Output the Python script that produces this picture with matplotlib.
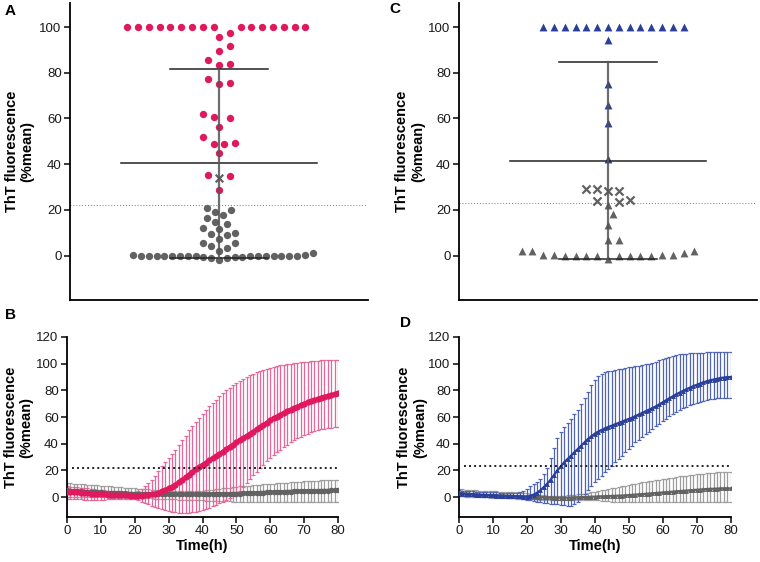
import numpy as np
import matplotlib
matplotlib.use('Agg')
import matplotlib.pyplot as plt

plt.rcParams['font.family'] = ['Liberation Sans', 'DejaVu Sans']

PINK = '#e0185e'
BLUE = '#2a3f9a'
GREY = '#626262'

# ---- panel A : end-point values (%mean) ----
A_pink = [100, 100, 100, 100, 100, 100, 100, 100, 100, 100, 100, 100, 100, 100, 100, 100,
	97.5, 95.5, 91.5, 89.7, 85.6, 83.8, 83.4, 77.3, 75.7, 75.2, 61.8, 60.6, 60.3,
	56.4, 51.7, 49.4, 49.0, 49.0, 44.8, 35.3, 34.8, 28.6]
A_greyX = [33.8]
A_grey = [21.0, 19.8, 19.2, 17.8, 16.3, 14.9, 13.8, 12.0, 11.8, 9.8, 9.5, 9.0, 7.3,
	5.5, 5.5, 4.2, 3.2,
	2.2, 0.3, 0.0, 0.0, 0.0, 0.0, -0.2, -0.2, -0.2, -0.2, -0.7, -0.9, -2.0, -0.9, -0.7,
	-0.4, -0.2, -0.2, -0.2, -0.2, -0.2, -0.2, -0.2, 0.3, 1.0]
A_thresh = 22.0

# ---- panel C ----
C_blue = [100, 100, 100, 100, 100, 100, 100, 100, 100, 100, 100, 100, 100, 100,
	94.2, 75.2, 65.8, 58.1, 42.2]
C_greyX = [29.1, 28.2, 28.3, 29.1, 24.5, 23.4, 23.9]
C_grey = [22.3, 18.0, 13.4, 6.9, 6.9,
	2.2, 1.9, 0.4, 0.4, 0.0, 0.0, 0.0, -0.3, -1.5, -0.3, 0.0, 0.0, 0.0, 0.4, 0.4, 1.0, 1.9]
C_thresh = 23.2

# ---- kinetics (B, D), one reading per hour ----
time_h = np.arange(0, 81, 1)

B_pink_mean = [4.0, 3.8, 3.6, 3.4, 3.2, 3.0, 2.8, 2.6, 2.4, 2.2,
	2.0, 1.9, 1.8, 1.7, 1.6, 1.5, 1.4, 1.3, 1.2, 1.1,
	1.0, 1.0, 1.1, 1.3, 1.6, 2.0, 2.5, 3.2, 4.2, 5.3,
	6.5, 7.8, 9.3, 11.0, 12.8, 14.8, 16.8, 18.8, 20.7, 22.5,
	24.2, 25.8, 27.4, 29.0, 30.6, 32.3, 34.0, 35.7, 37.5, 39.2,
	41.0, 42.6, 44.2, 45.8, 47.4, 49.0, 50.7, 52.4, 54.1, 55.8,
	57.5, 58.9, 60.3, 61.7, 63.1, 64.5, 65.6, 66.7, 67.8, 68.9,
	70.0, 70.9, 71.8, 72.7, 73.6, 74.5, 75.2, 75.9, 76.6, 77.3,
	78.0]
B_pink_hi = [8.0, 7.8, 7.5, 7.2, 7.0, 6.7, 6.4, 6.1, 5.8, 5.5,
	5.2, 5.0, 4.8, 4.6, 4.4, 4.2, 4.0, 3.8, 3.6, 3.5,
	3.5, 4.5, 6.0, 8.0, 10.5, 13.0, 16.0, 19.5, 23.0, 26.0,
	29.0, 32.0, 35.5, 39.0, 42.5, 46.0, 50.0, 53.5, 56.5, 59.5,
	62.5, 65.0, 68.0, 70.5, 73.0, 75.5, 78.0, 80.0, 82.0, 84.0,
	85.5, 87.0, 88.5, 90.0, 91.3, 92.5, 93.5, 94.5, 95.5, 96.3,
	97.0, 97.6, 98.2, 98.7, 99.2, 99.6, 100.0, 100.4, 100.7, 101.0,
	101.3, 101.6, 101.9, 102.1, 102.3, 102.5, 102.6, 102.7, 102.8, 102.9,
	103.0]
B_pink_lo = [-1.5, -1.5, -1.6, -1.7, -1.8, -1.9, -2.0, -2.0, -2.0, -2.0,
	-2.0, -1.9, -1.8, -1.7, -1.6, -1.5, -1.4, -1.3, -1.2, -1.2,
	-1.5, -2.5, -3.5, -4.5, -5.5, -6.5, -7.5, -8.5, -9.3, -10.0,
	-10.6, -11.1, -11.5, -11.8, -12.0, -12.0, -11.8, -11.5, -11.0, -10.4,
	-9.7, -8.9, -8.0, -7.0, -5.9, -4.7, -3.5, -2.2, -0.9, 0.4,
	2.0, 4.5, 7.5, 10.5, 13.5, 16.3, 19.0, 21.7, 24.3, 26.8,
	29.2, 31.4, 33.5, 35.5, 37.4, 39.2, 40.9, 42.5, 44.0, 45.3,
	46.5, 47.6, 48.6, 49.5, 50.2, 50.8, 51.3, 51.7, 52.0, 52.3,
	52.5]
B_grey_mean = [5.0, 4.8, 4.6, 4.4, 4.2, 4.0, 3.8, 3.7, 3.6, 3.5,
	3.4, 3.3, 3.2, 3.1, 3.0, 2.9, 2.8, 2.7, 2.6, 2.5,
	2.4, 2.3, 2.3, 2.2, 2.2, 2.1, 2.1, 2.0, 2.0, 2.0,
	2.0, 2.0, 2.0, 2.0, 2.0, 2.0, 2.0, 2.0, 2.0, 2.0,
	2.0, 2.1, 2.1, 2.2, 2.2, 2.3, 2.3, 2.4, 2.4, 2.5,
	2.5, 2.6, 2.7, 2.8, 2.9, 3.0, 3.1, 3.2, 3.3, 3.4,
	3.5, 3.6, 3.7, 3.8, 3.9, 4.0, 4.1, 4.2, 4.3, 4.4,
	4.5, 4.5, 4.6, 4.6, 4.7, 4.7, 4.8, 4.8, 4.9, 4.9,
	5.0]
B_grey_hi = [10.5, 10.3, 10.1, 9.9, 9.7, 9.5, 9.3, 9.1, 8.9, 8.7,
	8.5, 8.3, 8.1, 7.9, 7.7, 7.5, 7.3, 7.1, 6.9, 6.7,
	6.5, 6.3, 6.1, 5.9, 5.7, 5.5, 5.3, 5.1, 5.0, 4.9,
	4.8, 4.7, 4.6, 4.6, 4.5, 4.5, 4.5, 4.5, 4.5, 4.6,
	4.8, 5.0, 5.3, 5.6, 5.9, 6.2, 6.5, 6.8, 7.1, 7.4,
	7.7, 8.0, 8.2, 8.4, 8.6, 8.8, 9.0, 9.2, 9.4, 9.6,
	9.8, 10.0, 10.2, 10.4, 10.6, 10.8, 11.0, 11.2, 11.4, 11.6,
	11.8, 12.0, 12.1, 12.2, 12.3, 12.4, 12.5, 12.6, 12.7, 12.8,
	12.9]
B_grey_lo = [0.0, 0.0, 0.0, 0.0, -0.1, -0.1, -0.1, -0.2, -0.2, -0.2,
	-0.3, -0.3, -0.3, -0.4, -0.4, -0.4, -0.5, -0.5, -0.5, -0.6,
	-0.6, -0.7, -0.8, -0.9, -1.0, -1.1, -1.2, -1.3, -1.4, -1.5,
	-1.6, -1.7, -1.8, -1.9, -2.0, -2.1, -2.2, -2.3, -2.4, -2.5,
	-2.6, -2.7, -2.8, -2.9, -3.0, -3.1, -3.2, -3.3, -3.3, -3.4,
	-3.4, -3.4, -3.5, -3.5, -3.5, -3.5, -3.5, -3.5, -3.5, -3.5,
	-3.5, -3.5, -3.5, -3.5, -3.5, -3.5, -3.5, -3.5, -3.5, -3.5,
	-3.5, -3.5, -3.5, -3.5, -3.5, -3.5, -3.5, -3.5, -3.5, -3.5,
	-3.5]
B_thresh = 22.0

D_blue_mean = [2.8, 2.6, 2.4, 2.2, 2.0, 1.8, 1.6, 1.5, 1.4, 1.3,
	1.2, 1.1, 1.0, 0.9, 0.8, 0.7, 0.6, 0.5, 0.4, 0.3,
	0.3, 0.8, 1.8, 3.2, 5.0, 7.5, 10.0, 13.0, 16.5, 20.0,
	23.0, 26.0, 28.5, 31.0, 33.5, 36.0, 38.5, 41.0, 43.5, 45.5,
	47.5, 49.0, 50.3, 51.5, 52.5, 53.5, 54.5, 55.5, 56.5, 57.5,
	58.5, 59.5, 60.7, 61.9, 63.1, 64.3, 65.5, 66.7, 67.9, 69.4,
	71.0, 72.5, 74.0, 75.5, 77.0, 78.3, 79.6, 80.8, 82.0, 83.1,
	84.1, 85.1, 86.0, 86.8, 87.5, 88.1, 88.7, 89.2, 89.6, 89.9,
	90.0]
D_blue_hi = [5.0, 4.8, 4.6, 4.4, 4.2, 4.0, 3.9, 3.8, 3.7, 3.6,
	3.5, 3.4, 3.3, 3.2, 3.1, 3.0, 3.0, 3.2, 3.6, 4.5,
	6.0, 8.0, 9.5, 11.5, 13.5, 17.0, 22.0, 29.0, 37.0, 44.0,
	49.0, 52.5, 55.5, 58.5, 62.0, 65.0, 69.5, 74.5, 79.0, 84.0,
	88.0, 91.0, 92.5, 93.5, 94.2, 94.8, 95.3, 95.8, 96.3, 96.8,
	97.2, 97.6, 98.0, 98.5, 99.0, 99.5, 100.0, 100.8, 101.6, 102.4,
	103.2, 104.0, 104.8, 105.6, 106.3, 106.9, 107.3, 107.6, 107.8, 108.0,
	108.1, 108.2, 108.3, 108.4, 108.4, 108.5, 108.5, 108.5, 108.5, 108.5,
	108.5]
D_blue_lo = [1.0, 0.9, 0.8, 0.7, 0.6, 0.5, 0.4, 0.3, 0.2, 0.1,
	0.0, -0.1, -0.2, -0.3, -0.4, -0.5, -0.6, -0.8, -1.0, -1.5,
	-2.0, -2.5, -3.0, -3.5, -4.0, -4.3, -4.6, -4.9, -5.2, -5.5,
	-5.8, -6.2, -6.6, -6.5, -5.5, -3.5, -1.0, 2.0, 5.0, 8.0,
	11.0, 13.5, 16.0, 18.5, 21.0, 23.5, 26.0, 28.5, 31.0, 33.5,
	36.0, 38.5, 41.0, 43.0, 45.0, 47.0, 49.0, 51.0, 53.0, 55.0,
	57.0, 58.8, 60.6, 62.2, 63.8, 65.2, 66.5, 67.7, 68.8, 69.8,
	70.7, 71.5, 72.2, 72.8, 73.3, 73.7, 74.0, 74.2, 74.3, 74.4,
	74.5]
D_grey_mean = [3.0, 2.8, 2.6, 2.4, 2.2, 2.0, 1.8, 1.7, 1.6, 1.5,
	1.4, 1.3, 1.2, 1.1, 1.0, 0.9, 0.8, 0.7, 0.6, 0.5,
	0.4, 0.3, 0.2, 0.1, 0.0, -0.1, -0.2, -0.3, -0.4, -0.5,
	-0.5, -0.5, -0.5, -0.4, -0.3, -0.2, -0.1, 0.0, 0.1, 0.2,
	0.3, 0.4, 0.5, 0.6, 0.7, 0.8, 0.9, 1.0, 1.1, 1.2,
	1.4, 1.6, 1.8, 2.0, 2.2, 2.4, 2.6, 2.8, 3.0, 3.2,
	3.4, 3.6, 3.8, 4.0, 4.2, 4.4, 4.6, 4.8, 5.0, 5.2,
	5.4, 5.6, 5.8, 6.0, 6.1, 6.2, 6.3, 6.4, 6.5, 6.5,
	6.5]
D_grey_hi = [6.0, 5.8, 5.6, 5.4, 5.2, 5.0, 4.8, 4.6, 4.5, 4.4,
	4.3, 4.2, 4.1, 4.0, 3.9, 3.8, 3.7, 3.5, 3.3, 3.0,
	2.7, 2.4, 2.1, 1.8, 1.5, 1.3, 1.1, 1.0, 1.0, 1.0,
	1.0, 1.1, 1.2, 1.4, 1.6, 1.9, 2.2, 2.6, 3.0, 3.5,
	4.0, 4.5, 5.0, 5.5, 6.0, 6.5, 7.0, 7.5, 8.0, 8.5,
	9.0, 9.5, 10.0, 10.5, 11.0, 11.4, 11.8, 12.2, 12.6, 13.0,
	13.4, 13.8, 14.2, 14.6, 15.0, 15.4, 15.8, 16.1, 16.4, 16.7,
	17.0, 17.3, 17.6, 17.8, 18.0, 18.2, 18.4, 18.5, 18.6, 18.7,
	18.8]
D_grey_lo = [0.5, 0.4, 0.3, 0.2, 0.1, 0.0, -0.1, -0.2, -0.3, -0.4,
	-0.5, -0.6, -0.7, -0.8, -0.9, -1.0, -1.1, -1.2, -1.3, -1.4,
	-1.5, -1.6, -1.7, -1.8, -1.9, -2.0, -2.0, -2.0, -2.0, -2.0,
	-2.0, -2.0, -2.0, -2.0, -2.0, -2.0, -2.0, -2.0, -2.0, -2.2,
	-2.4, -2.6, -2.8, -3.0, -3.2, -3.4, -3.5, -3.5, -3.5, -3.5,
	-3.5, -3.5, -3.5, -3.5, -3.5, -3.5, -3.5, -3.5, -3.5, -3.5,
	-3.5, -3.5, -3.5, -3.5, -3.5, -3.5, -3.5, -3.5, -3.5, -3.5,
	-3.5, -3.5, -3.5, -3.5, -3.5, -3.5, -3.5, -3.5, -3.5, -3.5,
	-3.5]
D_thresh = 23.0

YLABEL = 'ThT fluorescence\n(%mean)'


def styleAxis(ax):
	for side in ['top', 'right']:
		ax.spines[side].set_visible(False)
	for side in ['left', 'bottom']:
		ax.spines[side].set_linewidth(1.3)
	ax.tick_params(direction='out', length=4, width=1.2, labelsize=9.5, pad=2, colors='#1a1a1a')


# simple beeswarm: points placed from low to high value, nearest free slot to the centre
def swarmOffsets(ax, values, diams):
	x0, y0 = ax.transData.transform((0, 0))
	x1, y1 = ax.transData.transform((1, 1))
	ppx, ppy = x1 - x0, y1 - y0
	values = np.asarray(values, dtype=float)
	order = np.argsort(values, kind='stable')
	placed = []
	offs = np.zeros(len(values))
	for i in order:
		y = values[i] * ppy
		d = diams[i]
		step = d / 2.0
		for j in range(400):
			c = 0.0 if j == 0 else ((j + 1) // 2) * step * (1 if j % 2 else -1)
			ok = True
			for (px, py, pd) in placed:
				lim = (d + pd) / 2.0
				if (c - px) ** 2 + (y - py) ** 2 < lim * lim * 0.999:
					ok = False
					break
			if ok:
				break
		placed.append((c, y, d))
		offs[i] = c / ppx
	return offs


def scatterPanel(ax, groups, thresh):
	ax.set_xlim(-1, 1)
	ax.set_ylim(-19.4, 110.5)
	ax.set_yticks(np.arange(0, 101, 20))
	ax.set_xticks([])
	styleAxis(ax)
	allVals, allDiams = [], []
	for vals, marker, color, size, diam in groups:
		allVals += list(vals)
		allDiams += [diam] * len(vals)
	offs = swarmOffsets(ax, allVals, allDiams)
	k = 0
	for vals, marker, color, size, diam in groups:
		n = len(vals)
		if marker == 'x':
			ax.scatter(offs[k:k + n], vals, marker='x', s=size, color=color, linewidths=1.6, zorder=3)
		else:
			ax.scatter(offs[k:k + n], vals, marker=marker, s=size, color=color, linewidths=0, zorder=3)
		k += n
	m = np.mean(allVals)
	sd = np.std(allVals, ddof=1)
	ax.plot([-0.66, 0.66], [m, m], color='#222222', lw=1.1, zorder=4)
	ax.plot([-0.33, 0.33], [m + sd, m + sd], color='#222222', lw=1.1, zorder=4)
	ax.plot([-0.33, 0.33], [m - sd, m - sd], color='#222222', lw=1.1, zorder=4)
	ax.plot([0, 0], [m - sd, m + sd], color='#555555', lw=1.6, alpha=0.85, zorder=4)
	ax.axhline(thresh, color='#777777', lw=0.7, linestyle=(0, (1, 2)), zorder=1)


def kineticPanel(ax, series, thresh):
	for mean, lo, hi, color, ecolor, marker, ms, lw in series:
		mean = np.asarray(mean)
		err = [mean - np.asarray(lo), np.asarray(hi) - mean]
		ax.errorbar(time_h, mean, yerr=err, fmt='none', ecolor=ecolor, elinewidth=0.9,
			capsize=1.3, capthick=0.9, zorder=2)
		ax.plot(time_h, mean, color=color, lw=lw, marker=marker, ms=ms, mew=0, zorder=3)
	ax.hlines(thresh, 1.5, 80, colors='#222222', lw=1.4, linestyles=[(0, (1, 1.6))], zorder=4)
	ax.set_xlim(0, 80)
	ax.set_ylim(-15, 120)
	ax.set_xticks(np.arange(0, 81, 10))
	ax.set_yticks(np.arange(0, 121, 20))
	styleAxis(ax)
	ax.set_xlabel('Time(h)', fontsize=10.5, fontweight='bold', labelpad=1)


fig = plt.figure(figsize=(7.6, 5.62), dpi=100)
W, H = 760.0, 562.0

axA = fig.add_axes([70 / W, 1 - 300 / H, 298 / W, 297 / H])
axC = fig.add_axes([459 / W, 1 - 300 / H, 298 / W, 297 / H])
axB = fig.add_axes([67 / W, 1 - 517 / H, 271 / W, 180 / H])
axD = fig.add_axes([459 / W, 1 - 517 / H, 271.5 / W, 180 / H])

scatterPanel(axA, [
	(A_grey, 'o', GREY, 28, 7.8),
	(A_greyX, 'x', GREY, 30, 7.8),
	(A_pink, 'o', PINK, 28, 10.8),
], A_thresh)
scatterPanel(axC, [
	(C_grey, '^', GREY, 32, 10.8),
	(C_greyX, 'x', GREY, 34, 10.8),
	(C_blue, '^', BLUE, 32, 10.8),
], C_thresh)

kineticPanel(axB, [
	(B_grey_mean, B_grey_lo, B_grey_hi, GREY, '#9e9e9e', 'o', 4.0, 2.6),
	(B_pink_mean, B_pink_lo, B_pink_hi, PINK, '#e6679a', 'o', 4.5, 2.8),
], B_thresh)
kineticPanel(axD, [
	(D_grey_mean, D_grey_lo, D_grey_hi, GREY, '#9e9e9e', '^', 3.5, 1.6),
	(D_blue_mean, D_blue_lo, D_blue_hi, BLUE, '#5064b4', '^', 3.5, 1.6),
], D_thresh)

# y labels and panel letters
for ycen, xcen in [(151.5, 19.5), (427, 18.5), (151.5, 410), (427, 412)]:
	fig.text(xcen / W, 1 - ycen / H, YLABEL, rotation=90, ha='center', va='center',
		multialignment='center', fontsize=10.5, fontweight='bold', linespacing=1.15)
for letter, x, y in [('A', 10, 11), ('B', 10, 315), ('C', 395, 9), ('D', 405, 323)]:
	fig.text(x / W, 1 - y / H, letter, ha='center', va='center', fontsize=11, fontweight='bold')

fig.savefig('out.png', dpi=100)
